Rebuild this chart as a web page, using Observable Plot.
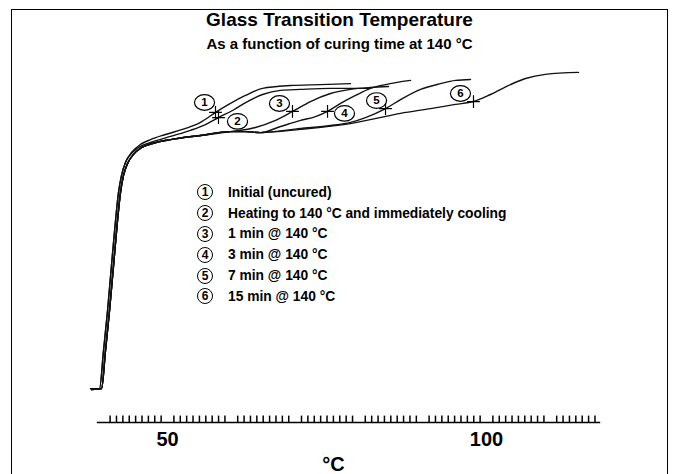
<!DOCTYPE html>
<html>
<head>
<meta charset="utf-8">
<script src="https://cdn.jsdelivr.net/npm/d3@7"></script>
<script src="https://cdn.jsdelivr.net/npm/@observablehq/plot@0.6"></script>
<style>
  html, body { margin: 0; padding: 0; background: #fff; }
  body { width: 673px; height: 474px; position: relative; overflow: hidden; font-family: "Liberation Sans", Arial, sans-serif; }
  #frame { position: absolute; left: 11px; top: 9px; width: 657px; height: 490px; border: 1.5px solid #000; box-sizing: border-box; }
  #title { position: absolute; left: 11px; width: 657px; top: 9px; text-align: center; font-weight: bold; font-size: 19px; line-height: 21px; color: #000; }
  #subtitle { position: absolute; left: 11px; width: 657px; top: 35px; text-align: center; font-weight: bold; font-size: 15px; line-height: 17px; color: #000; }
  #chart { position: absolute; left: 0; top: 0; }
  #legend { position: absolute; left: 197px; top: 182px; }
  .row { display: flex; align-items: center; height: 20.8px; }
  .num { width: 16px; height: 16px; border: 1.3px solid #000; border-radius: 50%; display: flex; align-items: center; justify-content: center; font-size: 12px; font-weight: bold; line-height: 1; margin-right: 15px; box-sizing: border-box; }
  .lab { font-size: 13.8px; font-weight: bold; color: #000; white-space: nowrap; }
</style>
</head>
<body>
<div id="frame"></div>
<div id="chart"></div>
<div id="title">Glass Transition Temperature</div>
<div id="subtitle">As a function of curing time at 140 °C</div>
<div id="legend"></div>
<script>
// ---- Data (temperature in °C, signal in arbitrary units) ----
const seriesIds = ["1", "2", "3", "4", "5", "6"];
const seriesNames = [
  "Initial (uncured)",
  "Heating to 140 °C and immediately cooling",
  "1 min @ 140 °C",
  "3 min @ 140 °C",
  "7 min @ 140 °C",
  "15 min @ 140 °C"
];

// shared rise of the traces
const riseATemp = [37.93, 39.34, 39.97, 40.60, 41.22, 41.85, 42.32, 42.79, 43.42];
const riseASignal = [0.6, 0.6, 12.5, 25, 39.1, 53.1, 61.9, 67.2, 71.3];
const riseBTemp = [38.09, 39.66, 40.28, 40.91, 41.54, 42.16, 42.63, 43.10, 43.73, 44.67, 45.92, 47.65, 50.47, 55.17, 59.87];
const riseBSignal = [0.3, 0.6, 12.5, 25, 39.1, 53.1, 61.9, 67.2, 70.9, 73.8, 75.9, 77.2, 78.4, 79.7, 80.9];

const c1Temp = [44.36, 45.77, 47.34, 49.69, 52.82, 55.17, 57.52, 59.87, 62.23, 64.89, 69.28, 73.98, 78.68];
const c1Signal = [74.4, 76.9, 78.4, 80.0, 81.9, 83.8, 86.9, 89.7, 92.2, 94.4, 95.3, 95.6, 95.9];
const c2Temp = [44.36, 45.77, 47.34, 50.47, 53.61, 55.96, 57.99, 60.19, 62.54, 64.89, 67.71, 70.85, 75.55, 81.50];
const c2Signal = [74.1, 76.3, 77.5, 79.4, 81.3, 83.1, 85.3, 87.5, 90.3, 92.5, 93.8, 94.1, 94.4, 94.4];
const c3Temp = [63.79, 66.93, 69.59, 72.41, 75.55, 78.68, 81.82, 84.64];
const c3Signal = [82.2, 84.4, 87.2, 90.3, 92.8, 94.1, 94.7, 95.0];
const c4Temp = [62.23, 64.58, 67.71, 70.85, 73.20, 75.08, 77.12, 79.47, 81.82, 84.17, 88.09];
const c4Signal = [80.9, 80.6, 82.5, 84.4, 85.6, 87.2, 89.7, 92.2, 94.4, 95.6, 96.9];
const c5Temp = [62.23, 64.58, 70.85, 75.55, 78.68, 81.03, 84.17, 86.52, 89.66, 92.79, 95.14, 97.49];
const c5Signal = [80.9, 80.6, 81.9, 82.8, 83.8, 85.3, 88.1, 90.9, 94.1, 95.9, 96.9, 97.2];
const c6Temp = [62.23, 64.58, 70.85, 78.68, 86.52, 91.22, 95.14, 97.96, 100.63, 103.76, 106.11, 109.25, 114.42];
const c6Signal = [80.9, 80.6, 81.6, 83.4, 86.6, 88.1, 89.4, 90.3, 92.5, 95.6, 97.5, 98.8, 99.4];

// glass transition markers (+)
const tgTemp = [57.52, 57.99, 69.59, 75.08, 84.17, 97.96];
const tgSignal = [86.9, 85.3, 87.2, 87.2, 88.1, 90.3];

// circled curve labels
const labelTemp = [55.80, 60.97, 67.55, 77.74, 82.76, 95.92];
const labelSignal = [90.0, 84.1, 89.7, 86.6, 90.6, 92.8];

// axis
const axisStart = 39.0, axisEnd = 117.9, axisLevel = -10, tickTop = -8;
const minorTicks = d3.range(41, 118).filter(t => t % 10 !== 0);
const tickLabels = [50, 100];
const unitLabel = "°C";

// ---- build rows ----
const parts = [
  [riseATemp.concat(c1Temp), riseASignal.concat(c1Signal)],
  [riseATemp.concat(c2Temp), riseASignal.concat(c2Signal)],
  [riseBTemp.concat(c3Temp), riseBSignal.concat(c3Signal)],
  [riseBTemp.concat(c4Temp), riseBSignal.concat(c4Signal)],
  [riseBTemp.concat(c5Temp), riseBSignal.concat(c5Signal)],
  [riseBTemp.concat(c6Temp), riseBSignal.concat(c6Signal)]
];
const rows = parts.flatMap(([ts, ss], i) => ts.map((t, j) => ({id: seriesIds[i], t, s: ss[j]})));
const tgRows = seriesIds.map((id, i) => ({id, t: tgTemp[i], s: tgSignal[i]}));
const labRows = seriesIds.map((id, i) => ({id, t: labelTemp[i], s: labelSignal[i]}));

const ellipse = {
  draw(ctx, size) {
    const r = Math.sqrt(size / Math.PI), rx = 1.18 * r, ry = 0.92 * r, k = 0.5523;
    ctx.moveTo(rx, 0);
    ctx.bezierCurveTo(rx, k * ry, k * rx, ry, 0, ry);
    ctx.bezierCurveTo(-k * rx, ry, -rx, k * ry, -rx, 0);
    ctx.bezierCurveTo(-rx, -k * ry, -k * rx, -ry, 0, -ry);
    ctx.bezierCurveTo(k * rx, -ry, rx, -k * ry, rx, 0);
    ctx.closePath();
  }
};

const chart = Plot.plot({
  width: 673,
  height: 474,
  marginTop: 70,
  marginBottom: 4,
  marginLeft: 0,
  marginRight: 0,
  style: {fontFamily: "'Liberation Sans', Arial, sans-serif", background: "transparent", overflow: "visible"},
  x: {domain: [23.82, 129.31], axis: null},
  y: {domain: [-25, 100], axis: null},
  marks: [
    Plot.line(rows, {x: "t", y: "s", z: "id", stroke: "#111", strokeWidth: 1.4, curve: "monotone-x"}),
    Plot.dot(tgRows, {x: "t", y: "s", symbol: "plus", r: 4.2, stroke: "#000", strokeWidth: 1.2}),
    Plot.dot(labRows, {x: "t", y: "s", symbol: ellipse, r: 8.5, stroke: "#000", strokeWidth: 1.2, fill: "white"}),
    Plot.text(labRows, {x: "t", y: "s", text: "id", fontSize: 11.5, fontWeight: "bold", fill: "#000"}),
    Plot.ruleY([axisLevel], {x1: axisStart, x2: axisEnd, stroke: "#000", strokeWidth: 1.3}),
    Plot.ruleX(minorTicks, {x: d => d, y1: axisLevel, y2: tickTop, stroke: "#000", strokeWidth: 1.5}),
    Plot.text(tickLabels, {x: d => d, y: -15.3, text: d => String(d), fontSize: 20, fontWeight: "bold", fill: "#000"}),
    Plot.text([unitLabel], {x: 76.0, y: -23.1, text: d => d, fontSize: 20, fontWeight: "bold", fill: "#000"})
  ]
});
document.getElementById("chart").append(chart);

const legend = document.getElementById("legend");
seriesIds.forEach((id, i) => {
  const row = document.createElement("div");
  row.className = "row";
  const n = document.createElement("div");
  n.className = "num";
  n.textContent = id;
  const l = document.createElement("div");
  l.className = "lab";
  l.textContent = seriesNames[i];
  row.append(n, l);
  legend.append(row);
});
</script>
</body>
</html>
